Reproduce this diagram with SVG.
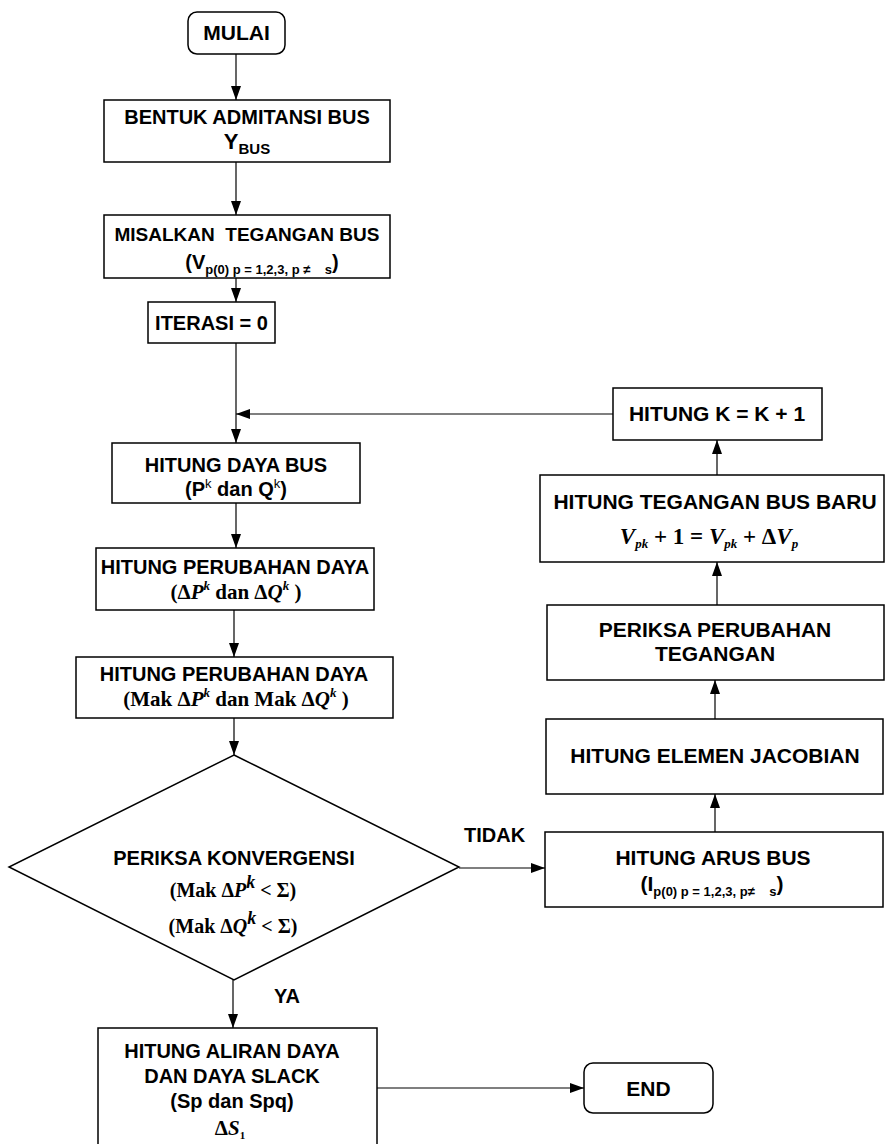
<svg xmlns="http://www.w3.org/2000/svg" width="885" height="1144" viewBox="0 0 885 1144">
<defs>
<style>
.box{fill:#fff;stroke:#000;stroke-width:1.5}
.c{fill:none;stroke:#000;stroke-width:1.2}
.t{font-family:"Liberation Sans",Arial,sans-serif;font-weight:bold;font-size:20px;text-anchor:middle;fill:#000}
.r{font-size:21px}
.m{font-family:"Liberation Serif","Times New Roman",serif;font-weight:bold;font-size:21px;text-anchor:middle;fill:#000}
.i{font-style:italic}
</style>
<marker id="ah" viewBox="0 0 14 10" refX="14" refY="5" markerWidth="14" markerHeight="10" markerUnits="userSpaceOnUse" orient="auto">
<path d="M0,0 L14,5 L0,10 z" fill="#000"/>
</marker>
</defs>
<rect width="885" height="1144" fill="#fff"/>

<g id="connectors">
<line class="c" x1="236" y1="54" x2="236" y2="100" marker-end="url(#ah)"/>
<line class="c" x1="236" y1="162" x2="236" y2="215" marker-end="url(#ah)"/>
<line class="c" x1="236" y1="278" x2="236" y2="302" marker-end="url(#ah)"/>
<line class="c" x1="236" y1="343" x2="236" y2="443" marker-end="url(#ah)"/>
<line class="c" x1="613" y1="414" x2="236" y2="414" marker-end="url(#ah)"/>
<line class="c" x1="236" y1="503" x2="236" y2="548" marker-end="url(#ah)"/>
<line class="c" x1="234" y1="610" x2="234" y2="657" marker-end="url(#ah)"/>
<line class="c" x1="234" y1="718" x2="234" y2="755" marker-end="url(#ah)"/>
<line class="c" x1="459" y1="868" x2="545" y2="868" marker-end="url(#ah)"/>
<line class="c" x1="233" y1="980" x2="233" y2="1028" marker-end="url(#ah)"/>
<line class="c" x1="377" y1="1088" x2="584" y2="1088" marker-end="url(#ah)"/>
<line class="c" x1="715" y1="832" x2="715" y2="794" marker-end="url(#ah)"/>
<line class="c" x1="715" y1="719" x2="715" y2="680" marker-end="url(#ah)"/>
<line class="c" x1="717" y1="605" x2="717" y2="562" marker-end="url(#ah)"/>
<line class="c" x1="717" y1="475" x2="717" y2="440" marker-end="url(#ah)"/>
<text class="t" x="464" y="842" style="text-anchor:start">TIDAK</text>
<text class="t" x="274" y="1003" style="text-anchor:start">YA</text>
</g>

<g id="mulai">
<rect class="box" x="188" y="12" width="97" height="42" rx="9"/>
<text class="t r" x="236.5" y="40">MULAI</text>
</g>

<g id="bentuk">
<rect class="box" x="104" y="100" width="286" height="62"/>
<text class="t" x="247" y="124">BENTUK ADMITANSI BUS</text>
<text class="t" x="247" y="149" style="font-size:22px">Y<tspan font-size="15" dy="5">BUS</tspan></text>
</g>

<g id="misalkan">
<rect class="box" x="104" y="215" width="286" height="63"/>
<text class="t" x="247" y="241" style="font-size:19px">MISALKAN&#160;&#160;TEGANGAN BUS</text>
<text class="t" x="262" y="269">(V<tspan font-size="13" dy="5">p(0) p = 1,2,3, p ≠&#160;&#160;&#160;&#160;s</tspan><tspan dy="-5">)</tspan></text>
</g>

<g id="iterasi">
<rect class="box" x="148" y="302" width="127" height="41"/>
<text class="t" x="211.5" y="330">ITERASI = 0</text>
</g>

<g id="hitung-daya-bus">
<rect class="box" x="112" y="443" width="248" height="60"/>
<text class="t" x="236" y="472">HITUNG DAYA BUS</text>
<text class="t" x="236" y="496">(P<tspan font-size="13" font-weight="normal" dy="-8">k</tspan><tspan dy="8"> dan Q</tspan><tspan font-size="13" font-weight="normal" dy="-8">k</tspan><tspan dy="8">)</tspan></text>
</g>

<g id="perubahan-daya-1">
<rect class="box" x="96" y="548" width="278" height="62"/>
<text class="t" x="235" y="574">HITUNG PERUBAHAN DAYA</text>
<text class="m" x="236" y="599">(Δ<tspan class="i">P</tspan><tspan class="i" font-size="13" dy="-9">k</tspan><tspan dy="9"> dan Δ</tspan><tspan class="i">Q</tspan><tspan class="i" font-size="13" dy="-9">k</tspan><tspan dy="9"> )</tspan></text>
</g>

<g id="perubahan-daya-2">
<rect class="box" x="76" y="657" width="317" height="61"/>
<text class="t" x="234" y="681">HITUNG PERUBAHAN DAYA</text>
<text class="m" x="236" y="706">(Mak Δ<tspan class="i">P</tspan><tspan class="i" font-size="13" dy="-9">k</tspan><tspan dy="9">  dan Mak Δ</tspan><tspan class="i">Q</tspan><tspan class="i" font-size="13" dy="-9">k</tspan><tspan dy="9"> )</tspan></text>
</g>

<g id="periksa-konvergensi">
<polygon class="box" points="234,755 459,867 234,980 9,867"/>
<text class="t" x="234" y="865">PERIKSA KONVERGENSI</text>
<text class="m" x="233" y="897" style="font-size:20px">(Mak Δ<tspan class="i">P</tspan><tspan class="i" font-size="18" dy="-9">k</tspan><tspan dy="9">  &lt; Σ)</tspan></text>
<text class="m" x="233" y="933" style="font-size:20px">(Mak Δ<tspan class="i">Q</tspan><tspan class="i" font-size="18" dy="-9">k</tspan><tspan dy="9">  &lt; Σ)</tspan></text>
</g>

<g id="aliran-daya">
<rect class="box" x="98" y="1028" width="279" height="140"/>
<text class="t" x="232" y="1058">HITUNG ALIRAN DAYA</text>
<text class="t" x="232" y="1083">DAN DAYA SLACK</text>
<text class="t" x="232" y="1108">(Sp dan Spq)</text>
<text class="m" x="230" y="1135">Δ<tspan class="i">S</tspan><tspan font-size="11" dy="4">1</tspan></text>
</g>

<g id="end">
<rect class="box" x="584" y="1063" width="129" height="50" rx="9"/>
<text class="t r" x="648.5" y="1096">END</text>
</g>

<g id="hitung-k">
<rect class="box" x="613" y="388" width="209" height="52"/>
<text class="t r" x="717" y="421">HITUNG K = K + 1</text>
</g>

<g id="tegangan-baru">
<rect class="box" x="540" y="475" width="344" height="87"/>
<text class="t r" x="715" y="509">HITUNG TEGANGAN BUS BARU</text>
<text class="m i" x="709" y="544" style="font-size:23px">V<tspan font-size="13" dy="4">pk</tspan><tspan font-style="normal" dy="-4"> + 1 = </tspan>V<tspan font-size="13" dy="4">pk</tspan><tspan font-style="normal" dy="-4"> + Δ</tspan>V<tspan font-size="13" dy="4">p</tspan></text>
</g>

<g id="periksa-tegangan">
<rect class="box" x="547" y="605" width="337" height="75"/>
<text class="t r" x="715" y="637">PERIKSA PERUBAHAN</text>
<text class="t r" x="715" y="661">TEGANGAN</text>
</g>

<g id="jacobian">
<rect class="box" x="546" y="719" width="337" height="75"/>
<text class="t r" x="715" y="763">HITUNG ELEMEN JACOBIAN</text>
</g>

<g id="arus-bus">
<rect class="box" x="545" y="832" width="338" height="75"/>
<text class="t r" x="713" y="865">HITUNG ARUS BUS</text>
<text class="t r" x="712" y="891">(I<tspan font-size="13" dy="5">p(0) p = 1,2,3, p≠&#160;&#160;&#160;&#160;s</tspan><tspan dy="-5">)</tspan></text>
</g>
</svg>
